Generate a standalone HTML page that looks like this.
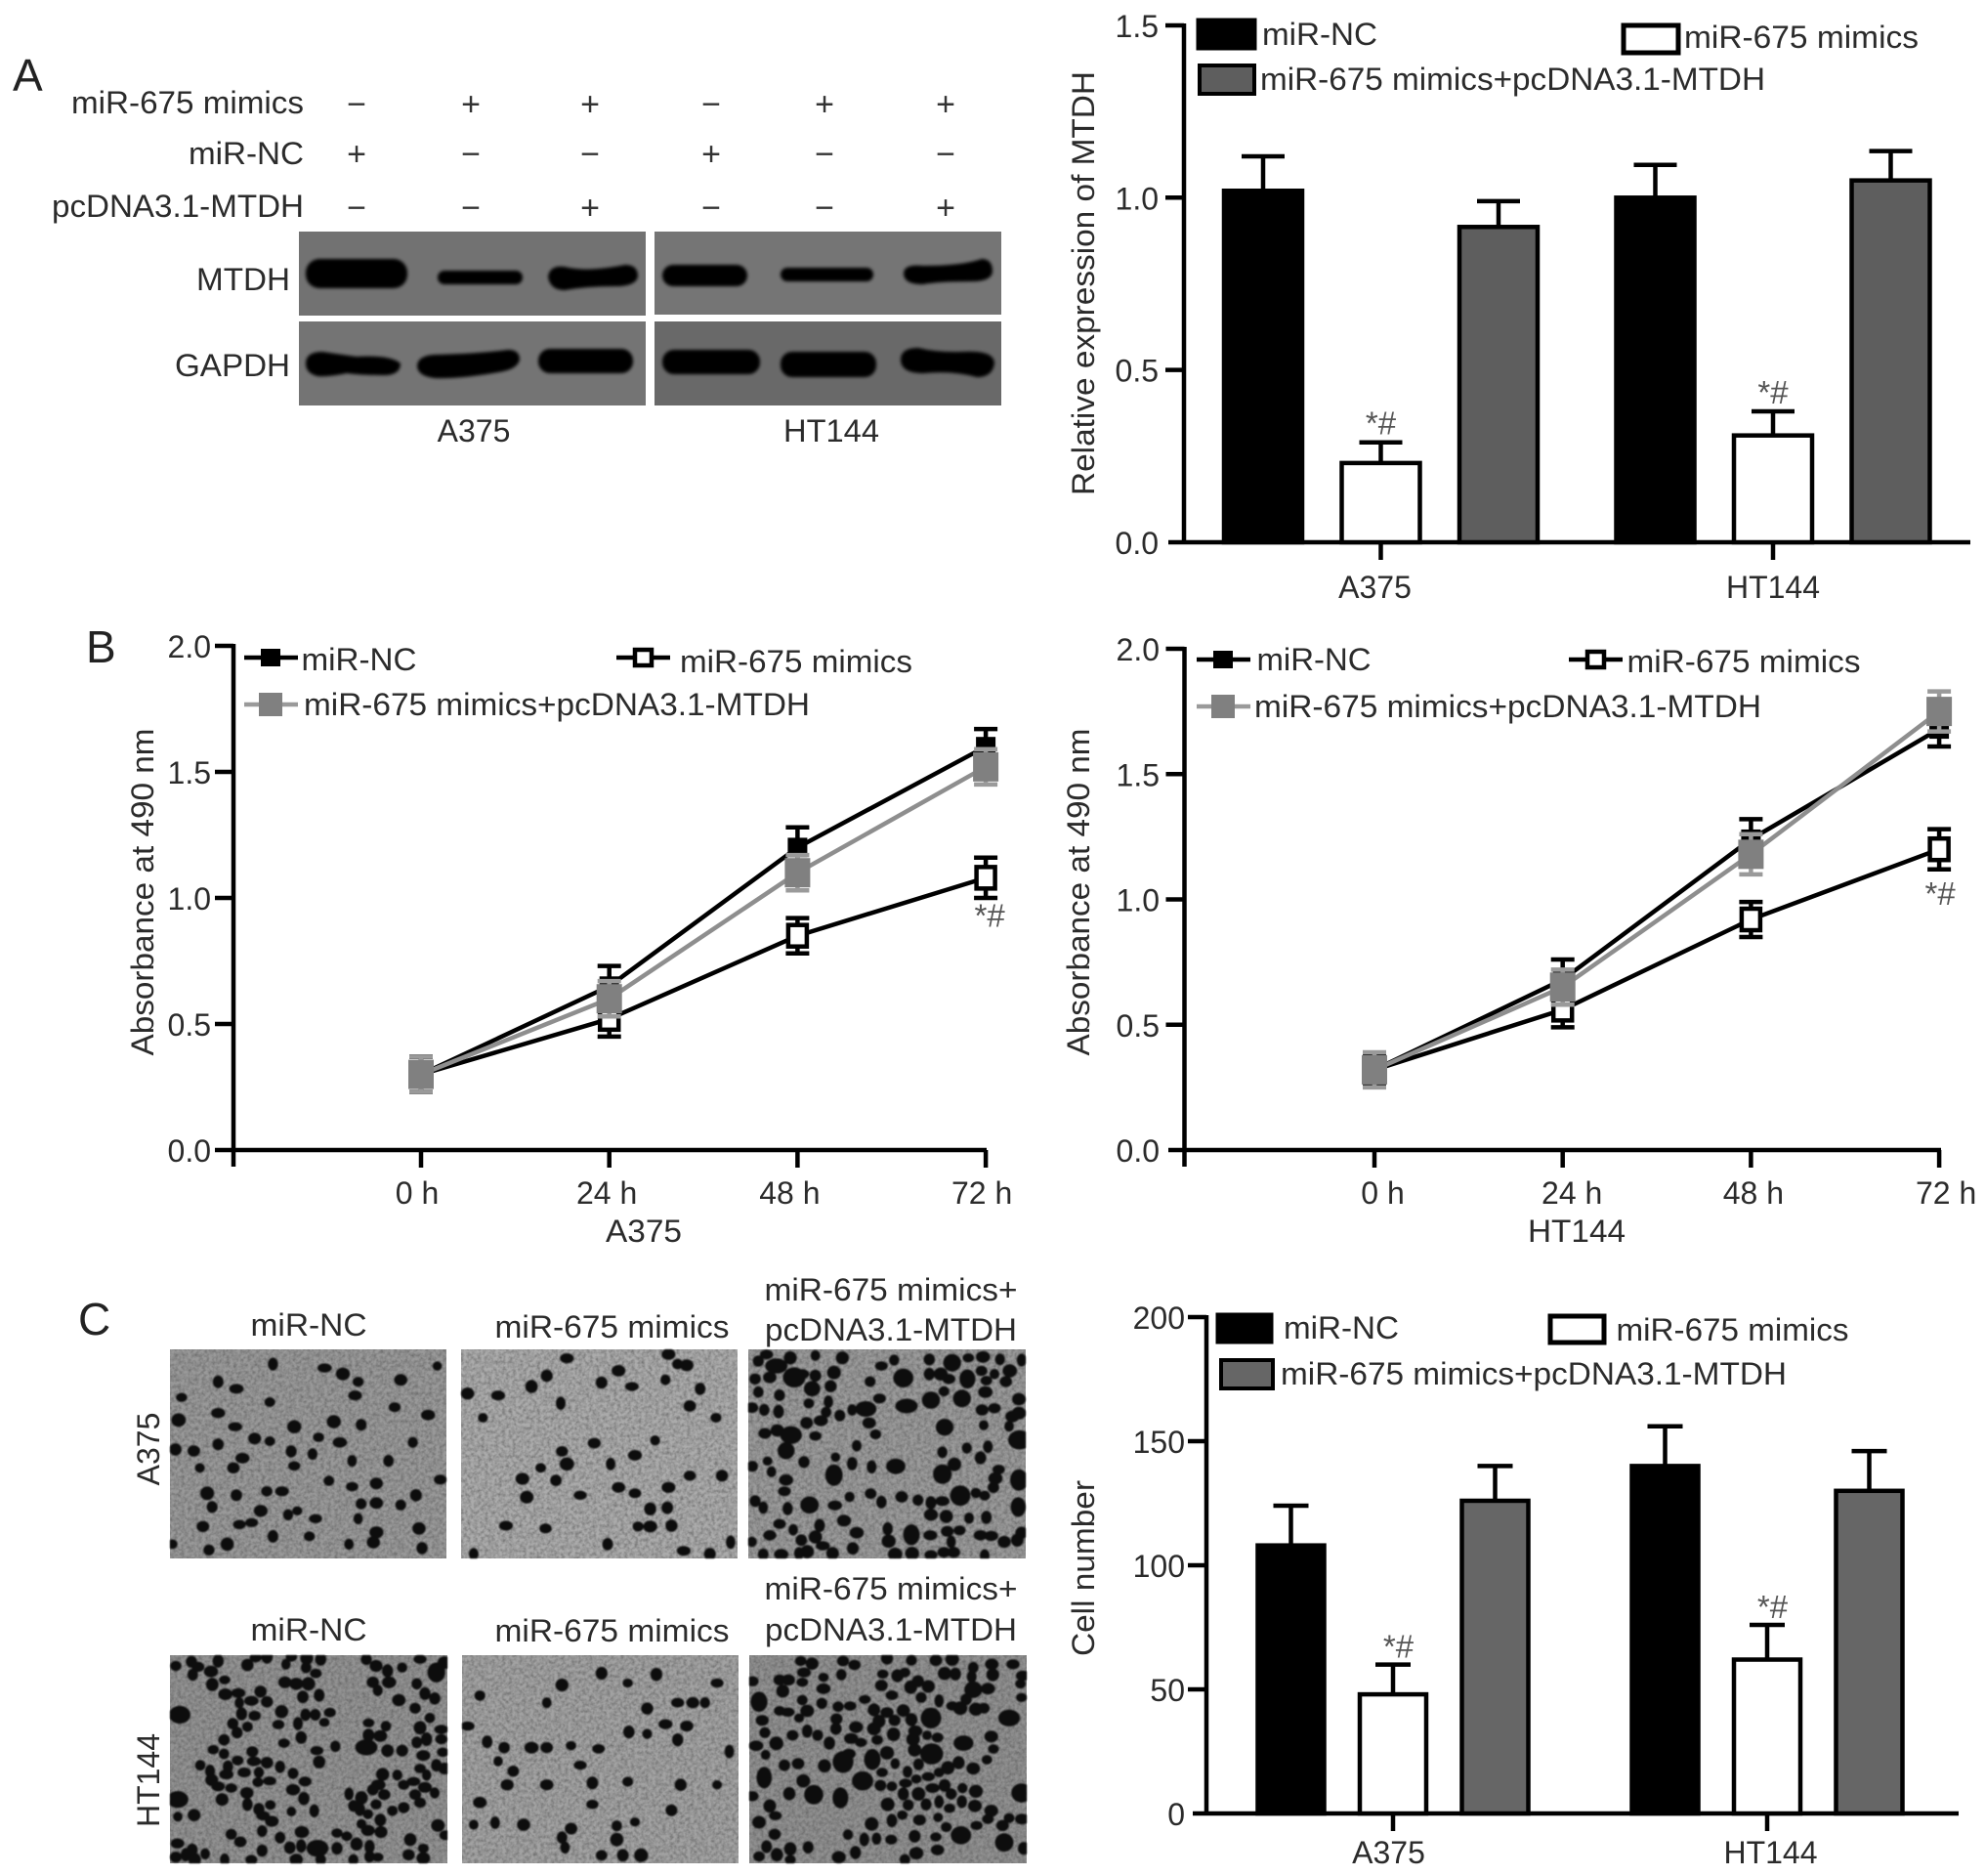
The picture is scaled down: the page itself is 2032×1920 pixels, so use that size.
<!DOCTYPE html>
<html lang="en">
<head>
<meta charset="utf-8">
<title>miR-675 and MTDH figure</title>
<style>
html,body{margin:0;padding:0;background:#fff;width:2032px;height:1920px;overflow:hidden}
svg{display:block}
text{font-family:"Liberation Sans",sans-serif;font-size:32px;fill:#2b2b2b}
.c{text-anchor:middle}
.sign{font-size:34px;text-anchor:middle;fill:#333}
.letter{font-size:46px;fill:#222}
</style>
</head>
<body>
<svg id="fig" xmlns="http://www.w3.org/2000/svg" width="2032" height="1920" viewBox="0 0 2032 1920">
<defs>
<filter id="soft" x="-20%" y="-40%" width="140%" height="180%"><feGaussianBlur stdDeviation="1.6"/></filter>
<filter id="cellblur" x="-5%" y="-5%" width="110%" height="110%"><feGaussianBlur stdDeviation="0.9"/></filter>
<filter id="grain" x="0" y="0" width="1" height="1">
<feTurbulence type="fractalNoise" baseFrequency="0.28" numOctaves="2" seed="4" result="n"/>
<feColorMatrix in="n" type="matrix" values="0 0 0 0 0.1  0 0 0 0 0.1  0 0 0 0 0.1  1.3 0 0 0 -0.42" result="s"/>
<feComposite in="s" in2="SourceGraphic" operator="in" result="sp"/>
<feMerge><feMergeNode in="SourceGraphic"/><feMergeNode in="sp"/></feMerge>
</filter>
<clipPath id="c1"><rect x="174" y="1381" width="283" height="214"/></clipPath>
<clipPath id="c2"><rect x="472" y="1381" width="283" height="214"/></clipPath>
<clipPath id="c3"><rect x="766" y="1381" width="284" height="214"/></clipPath>
<clipPath id="c4"><rect x="174" y="1694" width="284" height="213"/></clipPath>
<clipPath id="c5"><rect x="473" y="1694" width="283" height="213"/></clipPath>
<clipPath id="c6"><rect x="767" y="1694" width="284" height="213"/></clipPath>
</defs>

<!-- Panel letters -->
<text class="letter" x="13" y="93">A</text>
<text class="letter" x="88" y="678">B</text>
<text class="letter" x="80" y="1366">C</text>

<!-- Panel A western blot labels -->
<g>
<text x="73" y="116" textLength="238" lengthAdjust="spacingAndGlyphs">miR-675 mimics</text>
<text x="193" y="168" textLength="118" lengthAdjust="spacingAndGlyphs">miR-NC</text>
<text x="53" y="222" textLength="258" lengthAdjust="spacingAndGlyphs">pcDNA3.1-MTDH</text>
</g>
<g>
<text class="sign" x="365" y="118">−</text>
<text class="sign" x="482" y="118">+</text>
<text class="sign" x="604" y="118">+</text>
<text class="sign" x="728" y="118">−</text>
<text class="sign" x="844" y="118">+</text>
<text class="sign" x="968" y="118">+</text>
<text class="sign" x="365" y="169">+</text>
<text class="sign" x="482" y="169">−</text>
<text class="sign" x="604" y="169">−</text>
<text class="sign" x="728" y="169">+</text>
<text class="sign" x="844" y="169">−</text>
<text class="sign" x="968" y="169">−</text>
<text class="sign" x="365" y="224">−</text>
<text class="sign" x="482" y="224">−</text>
<text class="sign" x="604" y="224">+</text>
<text class="sign" x="728" y="224">−</text>
<text class="sign" x="844" y="224">−</text>
<text class="sign" x="968" y="224">+</text>
</g>

<g>
<rect x="306" y="237" width="355" height="86" fill="#727272"/>
<rect x="670" y="237" width="355" height="85" fill="#757575"/>
<rect x="306" y="329" width="355" height="86" fill="#747474"/>
<rect x="670" y="329" width="355" height="86" fill="#696969"/>
<g fill="#040404" filter="url(#soft)">
<rect x="313" y="265" width="104" height="30" rx="14"/>
<rect x="448" y="277" width="87" height="14" rx="7"/>
<path d="M561 283Q563 271 578 273Q600 279 640 271Q653 271 653 283Q651 293 630 293Q600 293 578 297Q563 297 561 283Z"/>
<rect x="678" y="271" width="87" height="22" rx="11"/>
<rect x="799" y="274" width="95" height="14" rx="7"/>
<path d="M925 280Q925 270 945 272Q985 272 1005 265Q1016 265 1016 278Q1015 288 995 288Q960 288 945 291Q925 291 925 280Z"/>
<path d="M313 372Q313 360 330 360Q350 363 365 365Q400 363 410 372Q410 383 395 384Q370 384 355 382Q335 386 325 385Q313 382 313 372Z"/>
<path d="M427 375Q427 364 445 363Q490 362 520 358Q532 358 532 368Q530 378 510 381Q470 388 445 387Q428 385 427 375Z"/>
<rect x="551" y="357" width="97" height="25" rx="12"/>
<rect x="678" y="358" width="100" height="25" rx="12"/>
<rect x="799" y="360" width="98" height="26" rx="12"/>
<path d="M922 368Q922 356 940 356Q960 361 985 360Q1018 358 1018 372Q1016 386 1000 386Q975 379 945 382Q922 382 922 368Z"/>
</g>
</g>
<text x="201" y="297" textLength="96" lengthAdjust="spacingAndGlyphs">MTDH</text>
<text x="179" y="385" textLength="118" lengthAdjust="spacingAndGlyphs">GAPDH</text>
<text class="c" x="485" y="452">A375</text>
<text class="c" x="851" y="452" textLength="98" lengthAdjust="spacingAndGlyphs">HT144</text>

<!-- Panel A bar chart labels and legend -->
<g id="chartExpr"></g>
<text class="c" transform="translate(1120,290) rotate(-90)" textLength="434" lengthAdjust="spacingAndGlyphs">Relative expression of MTDH</text>
<g>
<rect x="1226" y="20" width="59" height="30" fill="#000" stroke="#000" stroke-width="3"/>
<text x="1292" y="46" textLength="118" lengthAdjust="spacingAndGlyphs">miR-NC</text>
<rect x="1662" y="26" width="56" height="28" fill="#fff" stroke="#000" stroke-width="5"/>
<text x="1724" y="49" textLength="240" lengthAdjust="spacingAndGlyphs">miR-675 mimics</text>
<rect x="1228" y="67" width="56" height="29" fill="#5e5e5e" stroke="#000" stroke-width="4"/>
<text x="1290" y="92" textLength="517" lengthAdjust="spacingAndGlyphs">miR-675 mimics+pcDNA3.1-MTDH</text>
</g>

<!-- Panel B line charts -->
<g id="chartLineA"></g>
<text class="c" transform="translate(157,913) rotate(-90)" textLength="335" lengthAdjust="spacingAndGlyphs">Absorbance at 490 nm</text>
<text class="c" x="659" y="1271" textLength="78" lengthAdjust="spacingAndGlyphs">A375</text>
<g>
<line x1="250" y1="673" x2="305" y2="673" stroke="#000" stroke-width="4.5"/>
<rect x="267" y="664" width="20" height="18" fill="#000"/>
<text x="308.500" y="686" textLength="118" lengthAdjust="spacingAndGlyphs">miR-NC</text>
<line x1="631" y1="673" x2="686" y2="673" stroke="#000" stroke-width="4.5"/>
<rect x="650" y="665" width="17" height="16" fill="#fff" stroke="#000" stroke-width="4.5"/>
<text x="696" y="688" textLength="238" lengthAdjust="spacingAndGlyphs">miR-675 mimics</text>
<line x1="250" y1="721" x2="305" y2="721" stroke="#9a9a9a" stroke-width="4.5"/>
<rect x="265" y="709" width="24" height="24" fill="#808080"/>
<text x="311" y="732" textLength="518" lengthAdjust="spacingAndGlyphs">miR-675 mimics+pcDNA3.1-MTDH</text>
</g>

<g id="chartLineH"></g>
<text class="c" transform="translate(1115,913) rotate(-90)" textLength="335" lengthAdjust="spacingAndGlyphs">Absorbance at 490 nm</text>
<text class="c" x="1614" y="1271" textLength="100" lengthAdjust="spacingAndGlyphs">HT144</text>
<g>
<line x1="1225" y1="675" x2="1280" y2="675" stroke="#000" stroke-width="4.5"/>
<rect x="1242" y="666" width="20" height="18" fill="#000"/>
<text x="1286.500" y="686" textLength="117" lengthAdjust="spacingAndGlyphs">miR-NC</text>
<line x1="1606" y1="675" x2="1661" y2="675" stroke="#000" stroke-width="4.5"/>
<rect x="1625" y="667" width="17" height="16" fill="#fff" stroke="#000" stroke-width="4.5"/>
<text x="1665.500" y="688" textLength="239" lengthAdjust="spacingAndGlyphs">miR-675 mimics</text>
<line x1="1225" y1="723" x2="1280" y2="723" stroke="#9a9a9a" stroke-width="4.5"/>
<rect x="1240" y="711" width="24" height="24" fill="#808080"/>
<text x="1284" y="734" textLength="519" lengthAdjust="spacingAndGlyphs">miR-675 mimics+pcDNA3.1-MTDH</text>
</g>

<!-- Panel C micrographs -->
<text class="c" x="316" y="1367" textLength="119" lengthAdjust="spacingAndGlyphs">miR-NC</text>
<text class="c" x="626.500" y="1369" textLength="240" lengthAdjust="spacingAndGlyphs">miR-675 mimics</text>
<text class="c" x="912" y="1331" textLength="259" lengthAdjust="spacingAndGlyphs">miR-675 mimics+</text>
<text class="c" x="912" y="1372" textLength="258" lengthAdjust="spacingAndGlyphs">pcDNA3.1-MTDH</text>
<text class="c" x="316" y="1679" textLength="119" lengthAdjust="spacingAndGlyphs">miR-NC</text>
<text class="c" x="626.500" y="1680" textLength="240" lengthAdjust="spacingAndGlyphs">miR-675 mimics</text>
<text class="c" x="912" y="1637" textLength="259" lengthAdjust="spacingAndGlyphs">miR-675 mimics+</text>
<text class="c" x="912" y="1679" textLength="258" lengthAdjust="spacingAndGlyphs">pcDNA3.1-MTDH</text>
<text class="c" transform="translate(163,1483) rotate(-90)">A375</text>
<text class="c" transform="translate(163,1822) rotate(-90)">HT144</text>
<g>
<rect x="174" y="1381" width="283" height="214" fill="#999" filter="url(#grain)"/>
<rect x="472" y="1381" width="283" height="214" fill="#ababab" filter="url(#grain)"/>
<rect x="766" y="1381" width="284" height="214" fill="#9a9a9a" filter="url(#grain)"/>
<rect x="174" y="1694" width="284" height="213" fill="#929292" filter="url(#grain)"/>
<rect x="473" y="1694" width="283" height="213" fill="#a2a2a2" filter="url(#grain)"/>
<rect x="767" y="1694" width="284" height="213" fill="#909090" filter="url(#grain)"/>
</g>
<g id="cells" filter="url(#cellblur)"></g>

<!-- Panel C bar chart -->
<g id="chartCell"></g>
<text class="c" transform="translate(1120,1605) rotate(-90)" textLength="180" lengthAdjust="spacingAndGlyphs">Cell number</text>
<g>
<rect x="1246" y="1345" width="56" height="29" fill="#000" stroke="#000" stroke-width="3"/>
<text x="1314" y="1370" textLength="118" lengthAdjust="spacingAndGlyphs">miR-NC</text>
<rect x="1587" y="1347" width="55" height="27" fill="#fff" stroke="#000" stroke-width="5"/>
<text x="1654.500" y="1372" textLength="238" lengthAdjust="spacingAndGlyphs">miR-675 mimics</text>
<rect x="1250" y="1392" width="53" height="29" fill="#666" stroke="#000" stroke-width="4"/>
<text x="1311" y="1417" textLength="518" lengthAdjust="spacingAndGlyphs">miR-675 mimics+pcDNA3.1-MTDH</text>
</g>

<script>
// ---- Chart data ----
const groupCategories = ['A375', 'HT144'];

const exprTicks = [0, 0.5, 1.0, 1.5];
const exprTickLabels = ['0.0', '0.5', '1.0', '1.5'];
const exprNC = [1.02, 1.00];
const exprMimics = [0.23, 0.31];
const exprRescue = [0.915, 1.05];
const exprNCErr = [0.10, 0.095];
const exprMimicsErr = [0.06, 0.07];
const exprRescueErr = [0.075, 0.085];

const cellTicks = [0, 50, 100, 150, 200];
const cellTickLabels = ['0', '50', '100', '150', '200'];
const cellNC = [108, 140];
const cellMimics = [48, 62];
const cellRescue = [126, 130];
const cellNCErr = [16, 16];
const cellMimicsErr = [12, 14];
const cellRescueErr = [14, 16];

const timeLabels = ['0 h', '24 h', '48 h', '72 h'];
const absTicks = [0, 0.5, 1.0, 1.5, 2.0];
const absTickLabels = ['0.0', '0.5', '1.0', '1.5', '2.0'];

const a375NC = [0.30, 0.65, 1.20, 1.60];
const a375Mimics = [0.30, 0.52, 0.85, 1.08];
const a375Rescue = [0.30, 0.60, 1.10, 1.52];
const a375NCErr = [0.07, 0.08, 0.08, 0.07];
const a375MimicsErr = [0.07, 0.07, 0.07, 0.08];
const a375RescueErr = [0.07, 0.07, 0.07, 0.07];

const ht144NC = [0.32, 0.68, 1.24, 1.68];
const ht144Mimics = [0.32, 0.56, 0.92, 1.20];
const ht144Rescue = [0.32, 0.65, 1.18, 1.75];
const ht144NCErr = [0.06, 0.08, 0.08, 0.07];
const ht144MimicsErr = [0.06, 0.07, 0.07, 0.08];
const ht144RescueErr = [0.07, 0.07, 0.08, 0.08];

// ---- Micrograph texture (picture detail, not chart data) ----
const spotsP1 = [[320,265],[405,275],[590,270],[530,305],[435,290],[460,310],[230,310],[260,328],[170,350],[315,362],[455,345],[230,390],[420,412],[465,420],[520,375],[575,395],[165,408],[258,425],[355,425],[395,452],[290,455],[315,462],[430,465],[160,483],[190,487],[230,470],[350,488],[385,495],[450,512],[510,512],[270,505],[255,530],[200,530],[355,525],[550,465],[412,563],[450,578],[490,570],[310,590],[335,590],[260,600],[212,595],[555,600],[595,560],[465,622],[490,620],[530,625],[220,630],[345,650],[390,660],[460,660],[205,680],[265,675],[285,670],[560,685],[490,695],[380,705],[245,725],[215,740],[155,725],[320,705],[445,725],[485,720],[565,735],[360,640],[300,640]];
const spotsP2 = [[803,250],[970,240],[985,265],[1000,268],[888,282],[745,322],[690,345],[640,340],[770,295],[860,312],[910,322],[965,305],[1022,328],[793,365],[1005,372],[665,402],[1048,402],[948,460],[848,467],[795,488],[915,498],[760,530],[803,520],[875,520],[730,558],[785,562],[1005,550],[1058,550],[888,580],[825,600],[737,605],[970,580],[915,595],[940,635],[968,632],[920,680],[940,680],[975,678],[703,678],[768,685],[870,725],[650,750],[995,742],[1038,750],[1072,720]];
const spotsP3 = [[40,45],[65,25],[95,60,1],[138,35],[215,28],[298,35],[30,100],[75,95],[150,95,1],[175,85],[215,90],[205,130,1],[262,122],[272,80],[383,108],[418,60],[457,42],[485,97,1],[565,40],[635,50,1],[685,35],[730,32],[782,40],[848,42],[565,85],[600,85],[625,100],[682,100,1],[725,75],[765,85],[812,75],[740,105],[800,108],[40,140],[105,150],[195,175],[255,170],[20,188],[58,195],[102,200],[248,202],[290,212],[328,195],[370,192,1],[412,160],[495,183,1],[570,165,1],[610,138],[665,160,1],[737,140],[840,162],[727,195],[765,190],[820,215],[840,205],[188,235],[232,228],[215,275],[140,272,1],[60,267],[98,258],[380,235],[400,270],[612,248,1],[732,242],[810,245],[842,287,1],[342,305],[125,320,1],[605,325],[680,312],[745,308],[722,342],[277,340],[180,355],[68,352],[22,368],[80,385],[388,370],[462,368,1],[328,360],[272,395,1],[642,362],[605,392,1],[778,378],[768,405],[125,410],[120,445],[840,410,1],[762,433],[30,475],[55,495],[130,498],[197,487,1],[275,488],[320,462],[385,452],[418,478],[480,462],[530,472],[570,480],[605,475],[660,458,1],[708,450],[735,458],[838,493,1],[570,517],[617,522],[687,527],[740,525],[105,545],[147,563],[228,550],[303,535],[75,580],[172,595],[215,585],[342,572],[437,560],[510,578,1],[568,580],[620,568],[658,565],[722,580],[755,582],[848,572],[20,600],[440,598],[632,600],[795,600],[835,595],[55,638],[110,638],[165,635],[190,630],[238,612],[268,635],[330,620],[460,638],[512,635],[570,640],[610,632],[640,632],[735,642]];
const spotsP5 = [[795,1085],[903,1080],[950,1058],[860,1055],[660,1112],[770,1130],[935,1145],[985,1130],[1010,1130],[1030,1130],[1050,1080],[965,1185],[935,1210],[905,1205],[985,1225],[1070,1255],[672,1230],[700,1245],[745,1245],[770,1245],[810,1240],[855,1248],[690,1280],[825,1290],[715,1305],[705,1340],[770,1340],[845,1335],[903,1332],[990,1340],[1050,1340],[660,1385],[845,1390],[975,1405],[650,1442],[685,1437],[732,1442],[810,1452],[885,1445],[915,1435],[795,1475],[885,1480],[860,1520],[895,1520],[925,1520],[800,1500],[1000,1190],[640,1190]];
const spotsP4 = [[30,45],[78,32],[98,48],[82,72],[160,30],[138,62],[142,102],[180,88],[250,42],[182,132],[222,128],[290,124],[225,158],[262,152],[310,155],[42,195,1],[355,185],[232,192],[205,222],[272,198],[250,232],[345,225],[218,250],[405,222],[428,195],[458,195],[503,188],[486,218],[178,272],[362,282],[415,265],[145,302],[178,315],[265,308],[220,335],[270,338],[310,342],[105,350],[135,368],[190,355],[185,378],[240,372],[350,355],[285,372],[390,375],[140,395],[160,415],[200,420],[282,402],[318,398],[248,435],[172,455],[250,470],[285,485],[320,472],[36,455,1],[36,508],[86,503],[298,505],[325,522],[385,492],[390,425],[427,400],[423,452],[455,490],[463,305],[470,340],[520,292],[368,40],[400,100],[365,95],[437,100],[460,68],[430,50],[475,25],[432,22],[385,18],[275,20],[310,18],[420,140],[470,135],[615,295,1],[622,258],[658,260],[675,230],[680,305],[725,305],[622,220],[635,95],[645,45],[680,60],[725,50],[615,25],[685,95],[650,120],[770,100],[715,150],[830,65,1],[780,25],[855,35],[795,130],[825,145],[765,175],[810,205],[780,235],[845,240],[770,280],[800,270],[845,270],[790,320],[850,310],[780,360],[830,350],[855,360],[800,380],[760,400],[730,410],[795,418],[825,435],[765,440],[780,465],[710,380],[665,378],[652,410],[635,425],[670,440],[645,470],[600,450],[562,438],[575,475],[595,485],[620,500],[695,490],[730,480],[658,518],[600,530],[620,550],[660,555],[835,535],[858,565],[750,578],[525,558],[555,568],[585,592],[625,600],[790,605],[745,625],[650,632],[525,605],[465,605,1],[415,598],[380,603],[417,555],[350,572],[295,612],[200,562],[228,585],[295,552],[35,590],[120,622],[80,610],[30,632],[60,625],[88,640],[180,640],[262,640],[400,640],[475,640],[575,640],[625,630],[790,635]];
const spotsP6 = [[105,88],[132,88],[22,92],[170,30],[205,38],[180,65],[175,95],[240,80],[240,115],[295,72],[335,42],[300,30],[115,122],[42,155,1],[175,150],[105,183],[130,187],[190,183],[165,205],[235,160],[285,170],[322,168],[367,148],[52,212],[280,208],[278,238],[340,233],[395,238],[395,180],[435,188],[410,215],[458,212],[455,255],[405,272],[355,280],[325,268],[60,250],[95,283],[33,290],[62,318],[145,258],[190,245],[222,258],[258,282],[120,350],[162,345],[243,352],[300,340,1],[318,315],[390,332,1],[58,388,1],[178,398],[135,437],[210,440,1],[292,450,1],[360,398,1],[420,372],[460,345],[435,312],[498,370],[532,347],[520,303],[572,315,1],[515,270],[522,245],[558,258],[590,265],[670,282,1],[755,262],[762,300],[742,333],[700,360],[655,342],[622,358],[595,372],[562,385],[525,392],[492,405],[450,415],[415,412],[485,438],[532,438],[575,420],[612,412],[632,438],[667,420],[708,430],[665,462],[595,462],[555,470],[500,472],[437,470],[627,482],[848,435,1],[810,205,1],[570,205,1],[540,142],[595,152],[485,182],[510,210],[450,135],[418,105],[422,70],[467,75],[490,65],[508,110],[530,92],[562,108],[435,22],[510,28],[585,28],[635,25],[612,68],[645,70],[695,78],[700,50],[757,40],[760,72],[822,40],[852,75],[845,100],[700,118,1],[745,115],[678,148],[636,168],[660,175],[708,178],[733,175],[848,142],[22,445],[75,475],[92,505],[42,525],[90,562],[65,600],[138,607],[193,602],[42,630],[97,625],[138,640],[287,632],[338,618],[315,563],[365,578],[388,530],[403,575],[448,578],[450,520],[482,503],[535,518],[592,510],[617,540],[520,568],[585,570],[590,610],[525,620],[490,640],[662,565,1],[710,535],[745,515],[755,490],[705,475],[790,535],[810,512],[850,515],[795,587,1],[855,605]];

// ---- Helpers ----
const NS = 'http://www.w3.org/2000/svg';
function mk(tag, parent, attrs, txt) {
  const el = document.createElementNS(NS, tag);
  for (const k in attrs) el.setAttribute(k, attrs[k]);
  if (txt !== undefined) el.textContent = txt;
  parent.appendChild(el);
  return el;
}
function linearAxis(base, perUnit) { return v => base - v * perUnit; }

function drawAxes(g, o) {
  let el;
  el = mk('line', g, {x1: o.axisX, y1: o.y(o.tickVals[o.tickVals.length - 1]) - 2, x2: o.axisX, y2: o.axisBottom, stroke: '#000', 'stroke-width': 4.5});
  
  
  el = mk('line', g, {x1: o.xStart, y1: o.y(0), x2: o.xEnd, y2: o.y(0), stroke: '#000', 'stroke-width': 4.5});
  
  
  o.tickVals.forEach((v, i) => {
    if (v !== 0) {
      const t = mk('line', g, {x1: o.axisX - 19, y1: o.y(v), x2: o.axisX, y2: o.y(v), stroke: '#000', 'stroke-width': 4.5});
      
      
    }
    const l = mk('text', g, {x: o.labelRight, y: o.y(v) + 12, 'text-anchor': 'end'}, o.tickLabels[i]);
    
    
  });
}

function drawBars(g, o) {
  const y = o.y;
  const fills = ['#000', '#fff', o.rescueFill];
  o.series.forEach((vals, s) => {
    vals.forEach((v, c) => {
      const left = o.firstBar + c * o.groupStep + s * o.barStep;
      const cx = left + o.barW / 2;
      const top = y(v + o.errors[s][c]);
      let el;
      el = mk('line', g, {x1: cx, y1: top, x2: cx, y2: y(v), stroke: '#000', 'stroke-width': 4.5});
      
      
      el = mk('line', g, {x1: cx - o.cap, y1: top, x2: cx + o.cap, y2: top, stroke: '#000', 'stroke-width': 4.5});
      
      
      el = mk('rect', g, {x: left + 2, y: y(v), width: o.barW - 4, height: y(0) - y(v), fill: fills[s], stroke: '#000', 'stroke-width': 4.5});
      
      
      if (s === 1) {
        el = mk('text', g, {x: cx + o.starDx, y: top - o.starGap, 'text-anchor': 'middle', style: 'fill:#555;font-size:33px'}, '*#');
        
        
      }
    });
  });
  groupCategories.forEach((name, c) => {
    const cx = o.firstBar + c * o.groupStep + o.barStep + o.barW / 2;
    let el = mk('line', g, {x1: cx, y1: y(0), x2: cx, y2: y(0) + 18, stroke: '#000', 'stroke-width': 4.5});
    
    
    el = mk('text', g, {x: cx + o.catDx[c], y: o.catY, 'text-anchor': 'middle'}, name);
    
    
  });
}

function drawLines(g, o) {
  const y = o.y;
  const x = i => o.x0 + i * o.xStep;
  timeLabels.forEach((name, i) => {
    let el = mk('line', g, {x1: x(i), y1: y(0), x2: x(i), y2: y(0) + 18, stroke: '#000', 'stroke-width': 4.5});
    
    
    el = mk('text', g, {x: x(i) + o.labelDx[i], y: o.labelY, 'text-anchor': 'middle'}, name);
    
    
  });
  const colors = ['#000', '#000', '#8e8e8e'];
  const names = ['nc', 'mimics', 'rescue'];
  o.series.forEach((vals, s) => {
    const pts = vals.map((v, i) => x(i) + ',' + y(v)).join(' ');
    const el = mk('polyline', g, {points: pts, fill: 'none', stroke: colors[s], 'stroke-width': 4.5});
    
    
  });
  o.series.forEach((vals, s) => {
    vals.forEach((v, i) => {
      const e = o.errors[s][i];
      const col = s === 2 ? '#9a9a9a' : '#000';
      let el = mk('path', g, {d: 'M' + x(i) + ' ' + y(v + e) + 'V' + y(v - e) + 'M' + (x(i) - 12) + ' ' + y(v + e) + 'h24M' + (x(i) - 12) + ' ' + y(v - e) + 'h24', fill: 'none', stroke: col, 'stroke-width': 4.5});
      
      
      if (s === 0) {
        el = mk('rect', g, {x: x(i) - 10, y: y(v) - 10, width: 20, height: 20, fill: '#000'});
      } else if (s === 1) {
        el = mk('rect', g, {x: x(i) - 9.5, y: y(v) - 11, width: 19, height: 22, fill: '#fff', stroke: '#000', 'stroke-width': 4.5});
      } else {
        el = mk('rect', g, {x: x(i) - 13, y: y(v) - 15, width: 26, height: 30, fill: '#808080'});
      }
      
      
    });
  });
  const lastI = o.series[1].length - 1;
  const sig = mk('text', g, {x: x(lastI) + o.sigDx, y: y(o.series[1][lastI]) + o.sigGap, 'text-anchor': 'middle', style: 'fill:#555;font-size:33px'}, '*#');
  
  
}

// ---- Render charts ----
const yExpr = linearAxis(555, 352.7);
const gExpr = document.getElementById('chartExpr');
drawAxes(gExpr, {y: yExpr, tickVals: exprTicks, tickLabels: exprTickLabels, axisX: 1212, axisBottom: 555, xStart: 1196, xEnd: 2017, labelRight: 1186});
drawBars(gExpr, {y: yExpr, series: [exprNC, exprMimics, exprRescue], errors: [exprNCErr, exprMimicsErr, exprRescueErr], firstBar: 1251, groupStep: 401.5, barStep: 120.5, barW: 84, cap: 22, rescueFill: '#5e5e5e', starGap: 8, starDx: 0, catDx: [-6, 0], catY: 612});

const yCell = linearAxis(1856, 2.54);
const gCell = document.getElementById('chartCell');
drawAxes(gCell, {y: yCell, tickVals: cellTicks, tickLabels: cellTickLabels, axisX: 1235, axisBottom: 1856, xStart: 1221, xEnd: 2005, labelRight: 1213});
drawBars(gCell, {y: yCell, series: [cellNC, cellMimics, cellRescue], errors: [cellNCErr, cellMimicsErr, cellRescueErr], firstBar: 1285.5, groupStep: 383, barStep: 104.5, barW: 72, cap: 18, rescueFill: '#666', starGap: 7, starDx: 5.5, catDx: [-4.5, 3.5], catY: 1907});

const yAbsA = linearAxis(1177, 258);
const gLineA = document.getElementById('chartLineA');
drawAxes(gLineA, {y: yAbsA, tickVals: absTicks, tickLabels: absTickLabels, axisX: 239, axisBottom: 1194, xStart: 220, xEnd: 1010, labelRight: 216});
drawLines(gLineA, {y: yAbsA, series: [a375NC, a375Mimics, a375Rescue], errors: [a375NCErr, a375MimicsErr, a375RescueErr], x0: 431, xStep: 192.7, labelDx: [-4, -2.6, -8, -4], labelY: 1232, sigGap: 50, sigDx: 4});

const yAbsH = linearAxis(1177, 256.5);
const gLineH = document.getElementById('chartLineH');
drawAxes(gLineH, {y: yAbsH, tickVals: absTicks, tickLabels: absTickLabels, axisX: 1212.5, axisBottom: 1194, xStart: 1196, xEnd: 1987, labelRight: 1187});
drawLines(gLineH, {y: yAbsH, series: [ht144NC, ht144Mimics, ht144Rescue], errors: [ht144NCErr, ht144MimicsErr, ht144RescueErr], x0: 1407, xStep: 192.7, labelDx: [8.5, 9.5, 2.5, 7], labelY: 1232, sigGap: 57, sigDx: 1});

// ---- Render micrograph spots ----
const cellsG = document.getElementById('cells');
let seed = 12345;
function rnd() { seed = (seed * 16807) % 2147483647; return seed / 2147483647; }
function spot(parent, px, py, big) {
  const k = big ? 1.6 : 1;
  const rx = (4.8 + rnd() * 2.6) * k, ry = (4.6 + rnd() * 2.4) * k;
  const el = mk('ellipse', parent, {cx: px.toFixed(1), cy: py.toFixed(1), rx: rx.toFixed(1), ry: ry.toFixed(1), fill: '#101010'});
  
  
}
function panel(clipId) {
  const g = mk('g', cellsG, {'clip-path': 'url(#' + clipId + ')'});
  
  
  return g;
}
[['c1', spotsP1], ['c2', spotsP2], ['c5', spotsP5]].forEach(e => {
  const g = panel(e[0]);
  e[1].forEach(p => spot(g, 80 + p[0] * 0.623, 1290 + p[1] * 0.4005, false));
});
const gP3 = panel('c3');
spotsP3.forEach(p => spot(gP3, 763 + p[0] / 3, 1378 + p[1] / 3, p[2] === 1));
const gP4 = panel('c4');
spotsP4.forEach(p => spot(gP4, 170 + p[0] / 3, 1690 + p[1] / 3, p[2] === 1));
const gP6 = panel('c6');
spotsP6.forEach(p => spot(gP6, 763 + p[0] / 3, 1690 + p[1] / 3, p[2] === 1));
</script>
</svg>
</body>
</html>
